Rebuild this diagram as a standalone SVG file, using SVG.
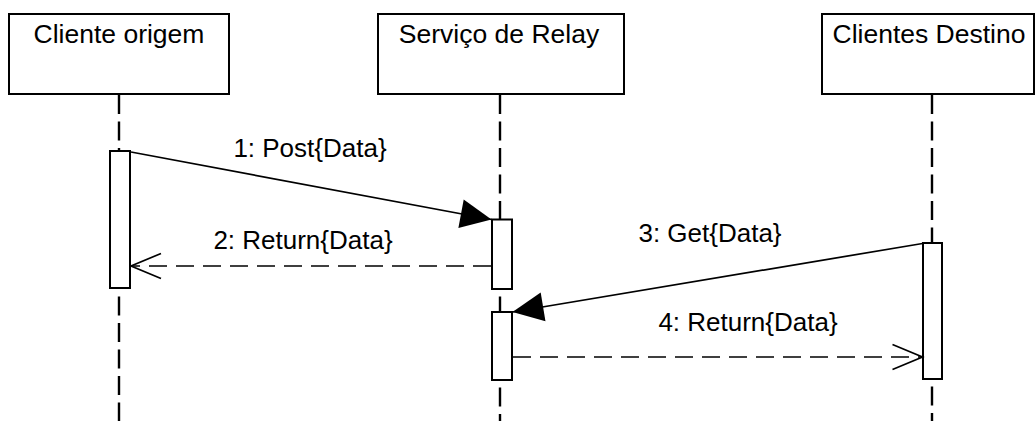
<svg xmlns="http://www.w3.org/2000/svg" width="1035" height="421" viewBox="0 0 1035 421">
  <style>
    .head { fill: #ffffff; stroke: #000000; stroke-width: 2; }
    .act { fill: #ffffff; stroke: #000000; stroke-width: 2; }
    .life { stroke: #000000; stroke-width: 2.4; stroke-dasharray: 19 7.5; fill: none; }
    .title { font-family: "Liberation Sans", Arial, sans-serif; font-size: 26.5px; fill: #000000; text-anchor: middle; }
    .label { font-family: "Liberation Sans", Arial, sans-serif; font-size: 26px; fill: #000000; text-anchor: middle; }
    .call { stroke: #000000; stroke-width: 1.7; fill: none; marker-end: url(#solidHead); }
    .reply { stroke: #000000; stroke-width: 1.7; fill: none; stroke-dasharray: 18 9; marker-end: url(#openHead); }
  </style>
  <defs>
    <marker id="solidHead" viewBox="-32 -16 34 32" markerWidth="34" markerHeight="32" refX="0" refY="0" orient="auto" markerUnits="userSpaceOnUse" overflow="visible">
      <path d="M0,0 L-31,-14.5 L-31,14.5 Z" fill="#000000" stroke="none"/>
    </marker>
    <marker id="openHead" viewBox="-32 -16 34 32" markerWidth="34" markerHeight="32" refX="0" refY="0" orient="auto" markerUnits="userSpaceOnUse" overflow="visible">
      <path d="M-30,-12.5 L0,0 L-30,12.5" fill="none" stroke="#000000" stroke-width="1.7" stroke-dasharray="none"/>
    </marker>
  </defs>

  <rect width="1035" height="421" fill="#ffffff"/>

  <!-- Lifeline: Cliente origem -->
  <g id="cliente-origem">
    <rect class="head" x="9" y="14" width="220" height="80"/>
    <text class="title" x="119" y="43">Cliente origem</text>
    <line class="life" x1="119" y1="95" x2="119" y2="151"/>
    <line class="life" x1="119" y1="289" x2="119" y2="421" stroke-dashoffset="19"/>
    <rect class="act" x="110" y="151" width="20" height="137"/>
  </g>

  <!-- Lifeline: Serviço de Relay -->
  <g id="servico-relay">
    <rect class="head" x="378" y="14" width="246" height="80"/>
    <text class="title" x="499" y="43">Serviço de Relay</text>
    <line class="life" x1="500" y1="95" x2="500" y2="219"/>
    <line class="life" x1="500" y1="289" x2="500" y2="312" stroke-dashoffset="19"/>
    <line class="life" x1="500" y1="380" x2="500" y2="421" stroke-dashoffset="19"/>
    <rect class="act" x="492" y="219.5" width="20" height="69.5"/>
    <rect class="act" x="492" y="312" width="20" height="68"/>
  </g>

  <!-- Lifeline: Clientes Destino -->
  <g id="clientes-destino">
    <rect class="head" x="822" y="14" width="212" height="80"/>
    <text class="title" x="929" y="43">Clientes Destino</text>
    <line class="life" x1="932" y1="95" x2="932" y2="243"/>
    <line class="life" x1="932" y1="379" x2="932" y2="421" stroke-dashoffset="19"/>
    <rect class="act" x="923" y="243" width="19" height="136"/>
  </g>

  <!-- Messages -->
  <g id="connectors">
    <line class="call" x1="131" y1="152" x2="491.5" y2="219.5"/>
    <text class="label" x="310" y="156.5">1: Post{Data}</text>

    <line class="reply" x1="491" y1="266" x2="131" y2="266"/>
    <text class="label" x="303" y="248.5">2: Return{Data}</text>

    <line class="call" x1="922.5" y1="243.5" x2="512.5" y2="312"/>
    <text class="label" x="710" y="241.5">3: Get{Data}</text>

    <line class="reply" x1="513" y1="357" x2="922.5" y2="357"/>
    <text class="label" x="748" y="331">4: Return{Data}</text>
  </g>
</svg>
